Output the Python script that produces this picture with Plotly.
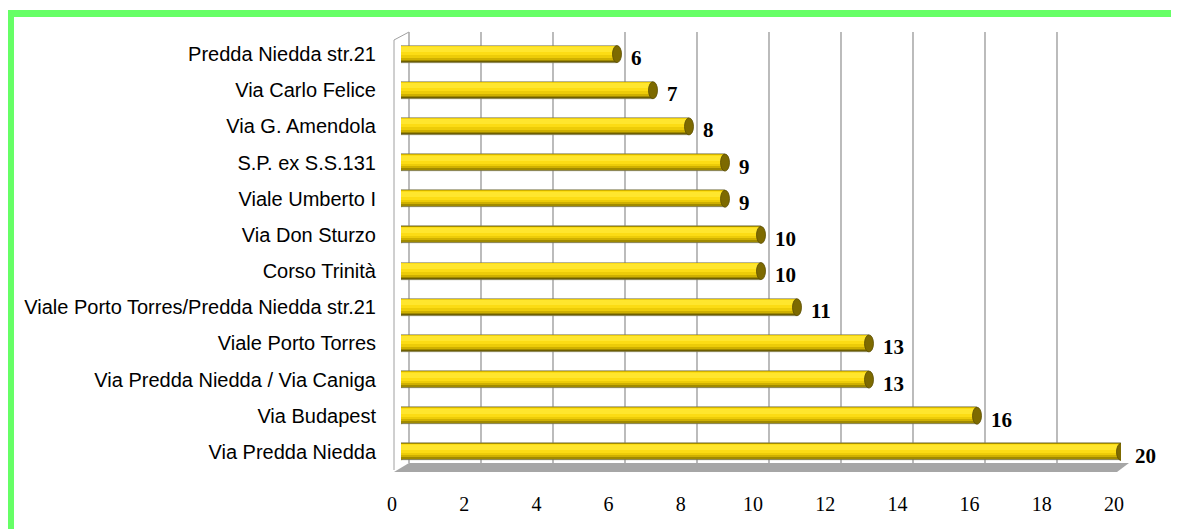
import plotly.graph_objects as go

# ---------------- data (top to bottom as shown) ----------------
categories = [
    "Predda Niedda str.21",
    "Via Carlo Felice",
    "Via G. Amendola",
    "S.P. ex S.S.131",
    "Viale Umberto I",
    "Via Don Sturzo",
    "Corso Trinità",
    "Viale Porto Torres/Predda Niedda str.21",
    "Viale Porto Torres",
    "Via Predda Niedda / Via Caniga",
    "Via Budapest",
    "Via Predda Niedda",
]
values = [6, 7, 8, 9, 9, 10, 10, 11, 13, 13, 16, 20]
x_ticks = [0, 2, 4, 6, 8, 10, 12, 14, 16, 18, 20]

# ---------------- geometry (page pixels) ----------------
PAGE_W, PAGE_H = 1179, 529
OFF = 8                      # page body margin
W, H = PAGE_W - OFF, PAGE_H - OFF
n = len(categories)
ypos = [n - 1 - i for i in range(n)]

def px(x):
    return max(0.0, (x - OFF) / W)

def py(y):
    return 1 - (y - OFF) / H

BAR_X = (401, 1121)      # bar axis domain (0..20)
TICK_X = (392, 1114)     # front edge tick-label axis
GRID_DX = 8              # back wall offset (px)
Y_DOM = (36, 470)
WALL_TOP = 32
FLOOR_BACK = 463
FLOOR_FRONT = 472

unit = (Y_DOM[1] - Y_DOM[0]) / n  # px per category

# gradient layers (bottom px, top px relative to bar centre, up positive)
layers = [
    (-8.5, 8.5, "#6E5E00"),
    (-7.0, 8.5, "#A08A00"),
    (-5.5, 8.3, "#CFB000"),
    (-3.5, 8.0, "#EDCC08"),
    (-1.0, 7.6, "#FCDC14"),
    (2.0, 7.0, "#FFE62E"),
]

fig = go.Figure()

for k, (b, t, col) in enumerate(layers):
    fig.add_trace(go.Bar(
        x=values, y=ypos, orientation="h",
        width=(t - b) / unit, offset=b / unit,
        marker=dict(color=col,
                    line=dict(color="#8C8C70" if k == 0 else col, width=0.6 if k == 0 else 0)),
        hoverinfo="skip", showlegend=False, xaxis="x", yaxis="y",
    ))

# invisible trace for the tick axis
fig.add_trace(go.Scatter(x=[0, 20], y=[0, 0], xaxis="x2", yaxis="y",
                         mode="markers", marker=dict(opacity=0),
                         hoverinfo="skip", showlegend=False))

shapes = []
# green frame
shapes.append(dict(type="rect", xref="paper", yref="paper",
                   x0=px(7), x1=px(14), y0=0, y1=py(10),
                   fillcolor="#66FF66", line=dict(width=0), layer="above"))
shapes.append(dict(type="rect", xref="paper", yref="paper",
                   x0=px(7), x1=1, y0=py(17), y1=py(10),
                   fillcolor="#66FF66", line=dict(width=0), layer="above"))

# floor
floor_path = "M {} {} L {} {} L {} {} L {} {} Z".format(
    px(TICK_X[0] + 2), py(FLOOR_FRONT), px(BAR_X[0] + GRID_DX), py(FLOOR_BACK),
    px(BAR_X[1] + GRID_DX), py(FLOOR_BACK), px(TICK_X[1] + 3), py(FLOOR_FRONT))
shapes.append(dict(type="path", xref="paper", yref="paper", path=floor_path,
                   fillcolor="#A6A6A6", line=dict(width=0), layer="below"))
# left wall
wall_path = "M {} {} L {} {} L {} {}".format(
    px(TICK_X[0] + 2), py(FLOOR_FRONT - 2), px(TICK_X[0] + 2), py(WALL_TOP + 8),
    px(BAR_X[0] + GRID_DX), py(WALL_TOP))
shapes.append(dict(type="path", xref="paper", yref="paper", path=wall_path,
                   line=dict(color="#A0A0A0", width=1), layer="below"))
# back wall grid lines
for t in x_ticks:
    shapes.append(dict(type="line", xref="x", yref="paper", xsizemode="pixel",
                       xanchor=t, x0=GRID_DX, x1=GRID_DX,
                       y0=py(FLOOR_BACK), y1=py(WALL_TOP),
                       line=dict(color="#ABABAB", width=1.6), layer="below"))

# bar caps
for v, y in zip(values, ypos):
    shapes.append(dict(type="circle", xref="x", yref="y",
                       xsizemode="pixel", ysizemode="pixel",
                       xanchor=0, yanchor=y, x0=-3.5, x1=4, y0=-8.4, y1=8.4,
                       fillcolor="#D8BA00", line=dict(width=0), layer="below"))
    shapes.append(dict(type="circle", xref="x", yref="y",
                       xsizemode="pixel", ysizemode="pixel",
                       xanchor=v, yanchor=y, x0=-4.5, x1=4.5, y0=-8.5, y1=8.5,
                       fillcolor="#7D6A00", line=dict(color="#5A4C00", width=0.8),
                       layer="above"))

annotations = []
for v, y in zip(values, ypos):
    annotations.append(dict(x=v, y=y, xref="x", yref="y", text=f"<b>{v}</b>",
                            showarrow=False, xanchor="left", xshift=12, yshift=-4,
                            font=dict(family="Liberation Serif, Times New Roman, serif",
                                      size=21, color="black")))

fig.update_layout(
    width=W, height=H, autosize=False,
    margin=dict(l=0, r=0, t=0, b=0, pad=0),
    paper_bgcolor="white", plot_bgcolor="rgba(0,0,0,0)",
    barmode="overlay", bargap=0,
    shapes=shapes, annotations=annotations,
    xaxis=dict(domain=[px(BAR_X[0]), px(BAR_X[1])], range=[0, 20],
               showgrid=False, zeroline=False, showticklabels=False,
               showline=False, ticks="", automargin=False),
    xaxis2=dict(domain=[px(TICK_X[0]), px(TICK_X[1])], range=[0, 20],
                anchor="free", position=py(FLOOR_FRONT),
                tickvals=x_ticks, ticktext=[str(t) for t in x_ticks],
                showgrid=False, zeroline=False, showline=False, ticks="",
                ticklabelstandoff=18, automargin=False,
                tickfont=dict(family="Liberation Serif, Times New Roman, serif",
                              size=20, color="black")),
    yaxis=dict(domain=[py(Y_DOM[1]), py(Y_DOM[0])], range=[-0.5, n - 0.5],
               tickvals=ypos, ticktext=categories,
               showgrid=False, zeroline=False, showline=False, ticks="",
               ticklabelstandoff=24, automargin=False,
               tickfont=dict(family="Liberation Sans, Arial, sans-serif",
                             size=20, color="black")),
)

fig.write_html("out.html", config={"responsive": False})
